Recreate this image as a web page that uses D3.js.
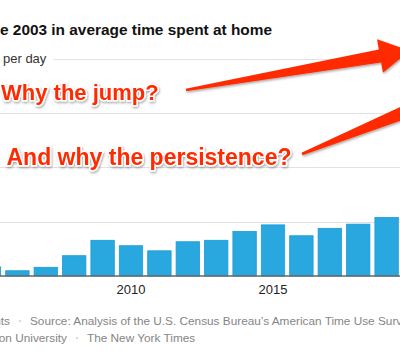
<!DOCTYPE html>
<html>
<head>
<meta charset="utf-8">
<script src="https://cdn.jsdelivr.net/npm/d3@7/dist/d3.min.js"></script>
<style>
  body { margin: 0; background: #fff; overflow: hidden; }
  svg { display: block; }
</style>
</head>
<body>
<div class="viewbox"></div>
<script>
// the picture is a crop of a wider NYT chart, so some things sit off the left/right edge on purpose

const svg_width = 400;
const svg_height = 358;
const font = "'Liberation Sans', Arial, Helvetica, sans-serif";

// data - change since 2003, minutes per day
const years = [2005, 2006, 2007, 2008, 2009, 2010, 2011, 2012, 2013, 2014, 2015, 2016, 2017, 2018, 2019];
const minutes = [5.0, 2.9, 4.8, 11.2, 19.7, 16.7, 13.9, 18.9, 19.7, 24.6, 28.2, 22.2, 26.3, 28.6, 32.3];

const gridTicks = [30, 60, 90, 120];
const topLabel = "+2 hours per day"; // only the top gridline label reaches into view
const xTicks = [2010, 2015];

const title = "Change since 2003 in average time spent at home";
const notes = ["Why the jump?", "And why the persistence?"];
const sourceLine1 = ["Estimates are for survey respondents", "Source: Analysis of the U.S. Census Bureau\u2019s American Time Use Survey by researchers at"];
const sourceLine2 = ["Carnegie Mellon University", "The New York Times"];

let svg = d3.select(".viewbox")
  .append("svg")
  .attr("width", svg_width)
  .attr("height", svg_height)
  .style("font-family", font);

let defs = svg.append("defs");
let shadow = defs.append("filter")
  .attr("id", "shadow")
  .attr("x", "-20%").attr("y", "-40%")
  .attr("width", "140%").attr("height", "180%");
shadow.append("feDropShadow")
  .attr("dx", 0.8).attr("dy", 1.5)
  .attr("stdDeviation", 1)
  .attr("flood-color", "#000")
  .attr("flood-opacity", 0.35);

// scales
let x = d3.scaleBand()
  .domain(years)
  .range([-25.2, 400.8])
  .paddingInner(0.176)
  .paddingOuter(0.088);

let y = d3.scaleLinear()
  .domain([0, 120])
  .range([276, 58.5]);

// title, cut on the left like the reference
let titleText = svg.append("text")
  .attr("y", 34.5)
  .attr("font-size", 15.4)
  .attr("font-weight", "bold")
  .attr("fill", "#121212")
  .text(title);
let titleShift = titleText.node().getSubStringLength(0, 11); // "Change sinc"
titleText.attr("x", -titleShift);

// top grid label, left aligned so only "per day" shows
let grid = svg.append("g");
let label = grid.append("text")
  .attr("y", y(gridTicks[gridTicks.length - 1]))
  .attr("dy", "0.34em")
  .attr("font-size", 13)
  .attr("fill", "#333")
  .text(topLabel);
let labelX = 3 - label.node().getSubStringLength(0, topLabel.indexOf("per"));
label.attr("x", labelX);
let labelEnd = labelX + label.node().getComputedTextLength() + 7;

grid.selectAll(".gline")
  .data(gridTicks)
  .enter()
  .append("line")
  .attr("class", "gline")
  .attr("x1", (d, i) => i === gridTicks.length - 1 ? labelEnd : 0)
  .attr("x2", svg_width + 10)
  .attr("y1", d => Math.round(y(d)) + 0.5)
  .attr("y2", d => Math.round(y(d)) + 0.5)
  .attr("stroke", "#e2e2e2")
  .attr("stroke-width", 1);

// bars
svg.selectAll(".bar")
  .data(years)
  .enter()
  .append("rect")
  .attr("class", "bar")
  .attr("x", d => x(d))
  .attr("width", x.bandwidth())
  .attr("y", (d, i) => y(minutes[i]))
  .attr("height", (d, i) => y(0) - y(minutes[i]))
  .attr("fill", "#29a8e0")
  .attr("stroke", "#1b9bd6")
  .attr("stroke-width", 0.8);

// baseline
svg.append("line")
  .attr("x1", 0).attr("x2", svg_width)
  .attr("y1", y(0)).attr("y2", y(0))
  .attr("stroke", "#666")
  .attr("stroke-width", 1.6);

// x axis, no domain line - just the year labels
let xAxis = svg.append("g")
  .attr("transform", `translate(0,${y(0)})`)
  .call(d3.axisBottom(x).tickValues(xTicks).tickSize(0).tickPadding(9));
xAxis.select(".domain").remove();
xAxis.selectAll("text")
  .attr("font-size", 13)
  .attr("font-family", font)
  .attr("fill", "#222");

// source lines
function sourceLine(parts, yPos, endX) {
  let g = svg.append("g")
    .attr("font-size", 11.8)
    .attr("fill", "#858585");
  g.append("text")
    .attr("x", endX)
    .attr("y", yPos)
    .attr("text-anchor", "end")
    .text(parts[0]);
  g.append("text")
    .attr("x", endX + 10)
    .attr("y", yPos)
    .attr("text-anchor", "middle")
    .attr("fill", "#cfcfcf")
    .text("\u2022")
    .attr("font-size", 7)
    .attr("dy", -2);
  g.append("text")
    .attr("x", endX + 20)
    .attr("y", yPos)
    .text(parts[1]);
}
sourceLine(sourceLine1, 325, 10);
sourceLine(sourceLine2, 341.5, 67);

// annotation arrows
function arrow(tail, base, w0, w1, headW, headL) {
  let dx = base[0] - tail[0], dy = base[1] - tail[1];
  let len = Math.sqrt(dx * dx + dy * dy);
  let u = [dx / len, dy / len];
  let n = [-u[1], u[0]];
  let p = (pt, a, b) => [pt[0] + n[0] * a + u[0] * b, pt[1] + n[1] * a + u[1] * b];
  return [
    p(tail, w0, 0), p(base, w1, 0), p(base, headW, 0), p(base, 0, headL),
    p(base, -headW, 0), p(base, -w1, 0), p(tail, -w0, 0)
  ];
}

let notesG = svg.append("g").attr("filter", "url(#shadow)");

notesG.append("polygon")
  .attr("points", arrow([186, 90], [380, 56], 1.3, 6.5, 17, 30).join(" "))
  .attr("fill", "#ff2a00");

notesG.append("polygon")
  .attr("points", arrow([302, 154], [440, 98], 1.3, 8.5, 20, 34).join(" "))
  .attr("fill", "#ff2a00");

notesG.selectAll(".note")
  .data(notes)
  .enter()
  .append("text")
  .attr("class", "note")
  .attr("x", (d, i) => i === 0 ? 1 : 6.5)
  .attr("y", (d, i) => i === 0 ? 99.5 : 164.5)
  .attr("font-size", (d, i) => i === 0 ? 22 : 23)
  .attr("font-weight", "bold")
  .attr("fill", "#ff2a00")
  .attr("stroke", "#fff")
  .attr("stroke-width", 3)
  .attr("stroke-linejoin", "round")
  .attr("paint-order", "stroke")
  .text(d => d);
</script>
</body>
</html>
